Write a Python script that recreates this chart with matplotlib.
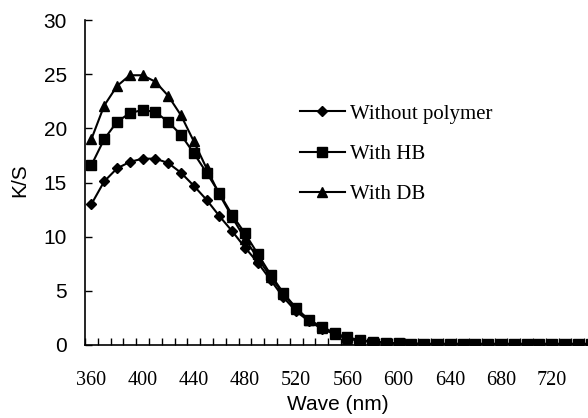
import numpy as np
import matplotlib
matplotlib.use("Agg")
import matplotlib.pyplot as plt

# wavelength categories (nm)
wave = list(range(360, 760, 10))

without_polymer = [13.0, 15.1, 16.3, 16.9, 17.2, 17.2, 16.8, 15.9, 14.7, 13.4,
                   11.9, 10.5, 9.0, 7.6, 6.0, 4.4, 3.1, 2.2, 1.5, 1.0,
                   0.6, 0.4, 0.3, 0.2, 0.15, 0.12, 0.1, 0.1, 0.1, 0.1,
                   0.1, 0.1, 0.1, 0.1, 0.1, 0.1, 0.1, 0.1, 0.1, 0.1]
with_hb = [16.6, 19.0, 20.6, 21.4, 21.7, 21.5, 20.6, 19.4, 17.7, 15.9,
           14.0, 12.0, 10.3, 8.4, 6.5, 4.8, 3.4, 2.3, 1.7, 1.1,
           0.7, 0.45, 0.3, 0.2, 0.15, 0.12, 0.1, 0.1, 0.1, 0.1,
           0.1, 0.1, 0.1, 0.1, 0.1, 0.1, 0.1, 0.1, 0.1, 0.1]
with_db = [19.0, 22.1, 23.9, 24.9, 24.9, 24.3, 23.0, 21.2, 18.8, 16.3,
           13.9, 11.8, 9.8, 8.0, 6.3, 4.7, 3.3, 2.3, 1.6, 1.0,
           0.6, 0.4, 0.3, 0.2, 0.15, 0.12, 0.1, 0.1, 0.1, 0.1,
           0.1, 0.1, 0.1, 0.1, 0.1, 0.1, 0.1, 0.1, 0.1, 0.1]

xtick_labels = [360, 400, 440, 480, 520, 560, 600, 640, 680, 720]
yticks = [0, 5, 10, 15, 20, 25, 30]

SANS = "Liberation Sans"
SERIF = "Liberation Serif"

fig = plt.figure(figsize=(5.88, 4.18), dpi=100)
ax = fig.add_axes([85 / 588, 73 / 418, 512 / 588, 325 / 418])

ax.plot(wave, without_polymer, "k-", marker="D", ms=5.5, lw=1.5, label="Without polymer")
ax.plot(wave, with_hb, "k-", marker="s", ms=6.5, lw=1.5, label="With HB")
ax.plot(wave, with_db, "k-", marker="^", ms=7, lw=1.5, label="With DB")

ax.set_xlim(355, 755)
ax.set_ylim(0, 30)

# category-style axis: tick marks between categories, labels every 4th
ax.set_xticks(np.arange(355, 756, 10), minor=True)
ax.set_xticks(xtick_labels)
ax.set_xticklabels([str(v) for v in xtick_labels], family=SERIF, fontsize=14.5)
ax.tick_params(axis="x", which="major", length=0, pad=19)
ax.tick_params(axis="x", which="minor", direction="in", length=5, width=1)

ax.set_yticks(yticks)
ax.set_yticklabels([str(v) for v in yticks], family=SANS, fontsize=15)
ax.tick_params(axis="y", direction="in", length=5, width=1, pad=13)

for side in ["top", "right"]:
    ax.spines[side].set_visible(False)
for side in ["left", "bottom"]:
    ax.spines[side].set_linewidth(1.2)

fig.text(338 / 588, 1 - 405 / 418, "Wave (nm)", family=SANS, fontsize=15,
         ha="center", va="center")
fig.text(20 / 588, 1 - 180 / 418, "K/S", family=SANS, fontsize=15,
         rotation=90, ha="center", va="center")

ax.legend(loc="upper left", bbox_to_anchor=(300 / 588, 1 - 104 / 418),
          bbox_transform=fig.transFigure, frameon=False,
          prop={"family": SERIF, "size": 15}, handlelength=2.15,
          handletextpad=0.25, labelspacing=1.0, borderpad=0, borderaxespad=0)

plt.savefig("out.png", dpi=100)
